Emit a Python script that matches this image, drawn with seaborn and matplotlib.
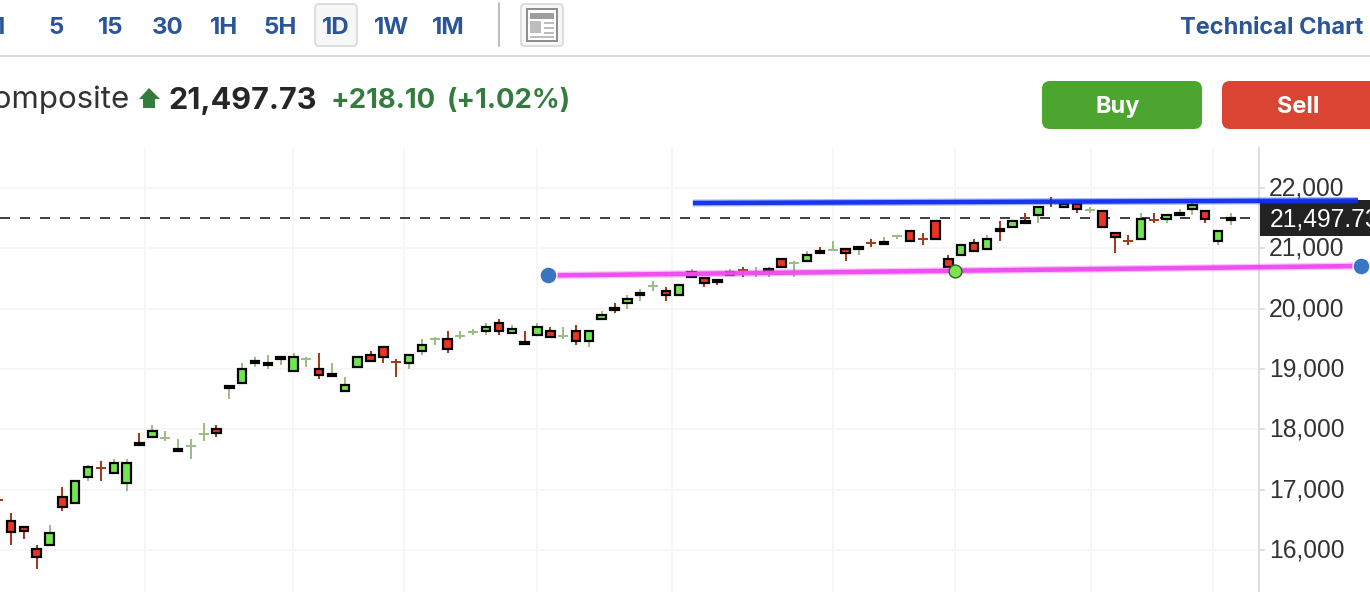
import matplotlib
matplotlib.use("Agg")
import matplotlib.pyplot as plt
from matplotlib.patches import FancyBboxPatch, Rectangle, Polygon
from matplotlib.transforms import ScaledTranslation
import pandas as pd
import seaborn as sns

# Daily candles
opens = [16830, 16481, 16386, 16021, 16078, 16883, 16774, 17205, 17359, 17271,
         17105, 17778, 17868, 17861, 17636, 17729, 17928, 18010, 18690, 18763,
         19094, 19061, 19161, 18962, 19166, 19005, 18885, 18630, 19028, 19237,
         19370, 19121, 19094, 19293, 19492, 19502, 19552, 19618, 19625, 19767,
         19592, 19445, 19559, 19635, 19542, 19635, 19459, 19824, 20010, 20089,
         20221, 20376, 20298, 20221, 20525, 20508, 20475, 20558, 20641, 20608,
         20625, 20828, 20752, 20785, 20961, 20972, 20994, 20984, 21088, 21072,
         21204, 21292, 21155, 21458, 20828, 20884, 21093, 20984, 21325, 21349,
         21458, 21548, 21768, 21680, 21735, 21635, 21624, 21259, 21117, 21150,
         21475, 21481, 21548, 21647, 21624, 21117, 21470]
highs = [16860, 16613, 16400, 16083, 16414, 17044, 17149, 17400, 17475, 17508,
         17508, 17939, 18072, 17972, 17840, 17840, 18105, 18072, 18715, 19099,
         19199, 19232, 19220, 19265, 19199, 19265, 19099, 18867, 19204, 19298,
         19385, 19166, 19250, 19497, 19530, 19630, 19630, 19663, 19762, 19829,
         19729, 19630, 19762, 19696, 19696, 19729, 19650, 19961, 20094, 20226,
         20326, 20459, 20359, 20397, 20657, 20520, 20475, 20657, 20691, 20691,
         20691, 20828, 20790, 20956, 21022, 21122, 21005, 21040, 21155, 21188,
         21221, 21292, 21254, 21458, 20889, 21060, 21155, 21221, 21453, 21458,
         21586, 21705, 21851, 21780, 21750, 21685, 21624, 21275, 21221, 21586,
         21586, 21575, 21652, 21785, 21640, 21310, 21586]
lows = [16800, 16083, 16182, 15685, 16078, 16646, 16774, 17143, 17143, 17271,
        16978, 17735, 17868, 17807, 17636, 17508, 17807, 17873, 18503, 18763,
        19033, 19000, 19066, 18962, 19033, 18834, 18885, 18630, 19028, 19128,
        19099, 18867, 19000, 19232, 19398, 19265, 19497, 19564, 19564, 19564,
        19592, 19415, 19559, 19525, 19497, 19398, 19365, 19824, 19928, 19994,
        20127, 20293, 20127, 20221, 20525, 20359, 20392, 20558, 20525, 20525,
        20525, 20686, 20525, 20785, 20918, 20956, 20790, 20889, 21022, 21072,
        21155, 21117, 21055, 21150, 20686, 20884, 20951, 20984, 21122, 21349,
        21415, 21420, 21685, 21680, 21586, 21586, 21349, 20923, 21055, 21150,
        21420, 21420, 21548, 21552, 21420, 21055, 21387]
closes = [16830, 16303, 16310, 15879, 16287, 16708, 17149, 17381, 17359, 17447,
          17447, 17735, 17977, 17861, 17679, 17729, 17928, 17934, 18715, 19005,
          19138, 19104, 19204, 19204, 19166, 18896, 18915, 18740, 19204, 19128,
          19194, 19121, 19237, 19403, 19492, 19326, 19552, 19618, 19701, 19625,
          19668, 19415, 19701, 19525, 19542, 19459, 19635, 19900, 19978, 20165,
          20265, 20376, 20221, 20397, 20608, 20420, 20443, 20608, 20641, 20608,
          20657, 20686, 20752, 20894, 20918, 20972, 20918, 21027, 21088, 21105,
          21204, 21117, 21155, 21150, 20686, 21060, 20951, 21160, 21282, 21458,
          21415, 21690, 21768, 21735, 21647, 21635, 21349, 21183, 21117, 21491,
          21475, 21557, 21591, 21718, 21481, 21292, 21497.73]
down_dojis = [0, 8, 31, 58, 68, 72, 82, 88, 90]

# Drawn trend lines: candle position, price
blue_line_x = [54.1, 105.9]
blue_line_y = [21751, 21793]
pink_line_x = [42.8, 106.1]
pink_line_y = [20550, 20707]
green_point_x = [74.5]
green_point_y = [20624]

last_price = 21497.73
price_ticks = [16000, 17000, 18000, 19000, 20000, 21000, 22000]
month_lines = [11.43, 22.96, 31.6, 41.96, 52.5, 65.0, 74.5, 85.1, 94.6]
timeframes = ["1", "5", "15", "30", "1H", "5H", "1D", "1W", "1M"]
timeframe_x = [0, 56, 111, 168, 224, 280, 336, 392, 448]

UP = "#70E64F"
DOWN = "#EE3322"
UP_WICK = "#9BBE85"
DOWN_WICK = "#A63A1E"
BLUE_TEXT = "#2A5599"
GREEN_TEXT = "#347C3D"
PX = 0.72  # one pixel in points at 100 dpi

sns.set_theme(style="whitegrid")
plt.rcParams["font.family"] = ["Inter", "DejaVu Sans"]

fig = plt.figure(figsize=(13.7, 5.92), dpi=100, facecolor="white")

# Page furniture, in pixels of the screenshot
page = fig.add_axes([0, 0, 1, 1], zorder=0)
page.set_xlim(0, 1370)
page.set_ylim(592, 0)
page.axis("off")

page.plot([0, 1370], [56, 56], color="#D9D9D9", lw=2 * PX)
page.add_patch(FancyBboxPatch((315, 4), 42, 42, boxstyle="round,pad=0,rounding_size=4",
                              fc="#F7F7F7", ec="#DDDDDD", lw=2 * PX))
for label, x in zip(timeframes, timeframe_x):
    page.text(x, 28, label, color=BLUE_TEXT, fontsize=17.3, fontweight="bold",
              ha="center", va="center")
page.plot([499, 499], [3, 46], color="#BDBDBD", lw=2 * PX)
page.add_patch(FancyBboxPatch((521, 4), 42, 42, boxstyle="round,pad=0,rounding_size=4",
                              fc="#F7F7F7", ec="#DDDDDD", lw=2 * PX))
page.add_patch(Rectangle((527, 9), 30, 32, fc="white", ec="#8E8E8E", lw=2 * PX))
page.add_patch(Rectangle((530, 13), 24, 6, fc="#9E9E9E", ec="none"))
page.add_patch(Rectangle((530, 21), 11, 12, fc="#BDBDBD", ec="none"))
for y in (22, 27, 32):
    page.add_patch(Rectangle((544, y), 10, 2, fc="#BDBDBD", ec="none"))
page.add_patch(Rectangle((530, 36), 24, 2, fc="#BDBDBD", ec="none"))
page.text(1363, 28, "Technical Chart", color=BLUE_TEXT, fontsize=17, fontweight="bold",
          ha="right", va="center")

page.text(129, 100, "Composite", color="#333333", fontsize=22.5, ha="right", va="center")
page.add_patch(Polygon([(149, 88), (160, 99), (155, 99), (155, 108), (143, 108), (143, 99), (139, 99)],
                       fc=GREEN_TEXT, ec="none"))
page.text(168, 101, "21,497.73", color="#262626", fontsize=22, fontweight="bold", ha="left", va="center")
page.text(331, 101, "+218.10", color=GREEN_TEXT, fontsize=19.8, fontweight="bold", ha="left", va="center")
page.text(447, 101, "(+1.02%)", color=GREEN_TEXT, fontsize=19.8, fontweight="bold", ha="left", va="center")

page.add_patch(FancyBboxPatch((1042, 81), 160, 48, boxstyle="round,pad=0,rounding_size=8",
                              fc="#4CA52F", ec="none"))
page.add_patch(FancyBboxPatch((1222, 81), 170, 48, boxstyle="round,pad=0,rounding_size=8",
                              fc="#D94532", ec="none"))
page.text(1118, 107, "Buy", color="white", fontsize=17, fontweight="bold", ha="center", va="center")
page.text(1298, 107, "Sell", color="white", fontsize=17, fontweight="bold", ha="center", va="center")

page.add_patch(Rectangle((1258, 200), 112, 36, fc="#222222", ec="none"))
page.text(1270, 220, "21,497.73", color="white", fontsize=17.7, family="Liberation Sans",
          ha="left", va="center")

# Price chart
ax = fig.add_axes([0, 0, 1259 / 1370, 444 / 592], zorder=1)
ax.patch.set_alpha(0)

candles = pd.DataFrame({"open": opens, "high": highs, "low": lows, "close": closes})
candles["pos"] = candles.index
candles["down"] = candles["open"] > candles["close"]
candles.loc[down_dojis, "down"] = True

wicks = candles.melt(id_vars=["pos", "down"], value_vars=["high", "low"], value_name="price")
sns.lineplot(data=wicks, x="pos", y="price", units="pos", hue="down", estimator=None,
             palette={True: DOWN_WICK, False: UP_WICK}, lw=2 * PX, legend=False,
             solid_capstyle="butt", zorder=3, ax=ax)

dojis = candles[candles["open"] == candles["close"]]
ax.hlines(dojis["open"], dojis["pos"] - 0.39, dojis["pos"] + 0.39, lw=2 * PX, zorder=3,
          colors=[DOWN_WICK if d else UP_WICK for d in dojis["down"]])

bodies = candles[candles["open"] != candles["close"]]
ax.bar(bodies["pos"], (bodies["open"] - bodies["close"]).abs(),
       bottom=bodies[["open", "close"]].min(axis=1), width=0.66,
       color=[DOWN if d else UP for d in bodies["down"]],
       edgecolor="black", linewidth=2.2 * PX, zorder=4)

ax.axhline(last_price, color="#444444", lw=2 * PX, linestyle=(0, (5, 5)), zorder=2)

for line_x, line_y, colour in [(blue_line_x, blue_line_y, "#0F30EE"),
                               (pink_line_x, pink_line_y, "#EE4BEF")]:
    sns.lineplot(x=line_x, y=line_y, color=colour, lw=7 * PX, alpha=0.35, clip_on=False,
                 solid_capstyle="butt", zorder=5, ax=ax)
    sns.lineplot(x=line_x, y=line_y, color=colour, lw=4.5 * PX, alpha=0.95, clip_on=False,
                 solid_capstyle="butt", zorder=6, ax=ax)

sns.scatterplot(x=[pink_line_x[0], pink_line_x[1]], y=[pink_line_y[0], pink_line_y[1]],
                color="#3A75C4", s=150, edgecolor="white", linewidth=1, clip_on=False, zorder=7, ax=ax)
sns.scatterplot(x=green_point_x, y=green_point_y, color="#76E84E", s=85, edgecolor="#3A5A3A",
                linewidth=1, clip_on=False, zorder=7, ax=ax)

ax.set_xlim(0.14, 98.19)
ax.set_ylim(15303, 22663)
ax.set_xlabel("")
ax.set_ylabel("")
ax.set_xticks(month_lines)
ax.set_xticklabels([])
ax.set_yticks(price_ticks)
ax.set_yticklabels([f"{v:,}" for v in price_ticks], fontsize=17.7, color="#333333", family="Liberation Sans")
ax.yaxis.tick_right()
ax.tick_params(axis="y", length=6 * PX, width=2 * PX, color="#DDDDDD", pad=2.7, right=True, left=False)
ax.tick_params(axis="x", length=0)
nudge = ScaledTranslation(0, 2 / 100, fig.dpi_scale_trans)
for tick_label in ax.get_yticklabels():
    tick_label.set_transform(tick_label.get_transform() + nudge)
ax.grid(True, color="#F6F6F6", lw=2 * PX)
ax.set_axisbelow(True)
for side in ["top", "left", "bottom"]:
    ax.spines[side].set_visible(False)
ax.spines["right"].set_color("#DDDDDD")
ax.spines["right"].set_linewidth(2 * PX)

fig.savefig("out.png", dpi=100)
